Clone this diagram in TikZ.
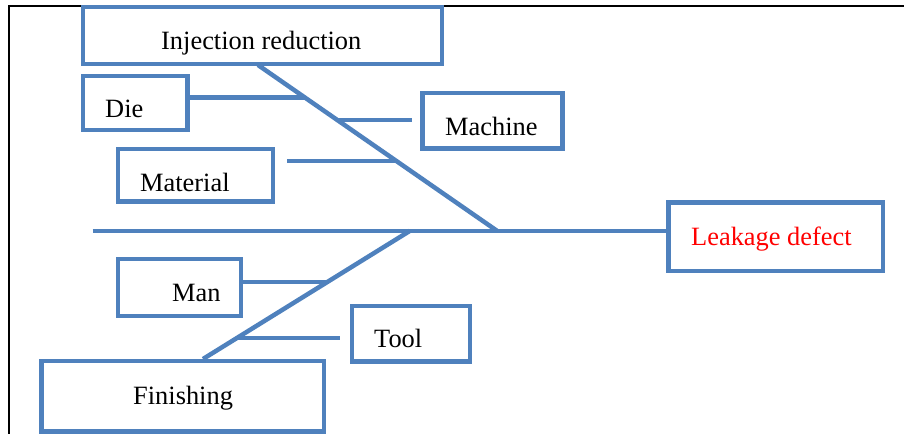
\documentclass[tikz,border=0pt]{standalone}
\usepackage{fontspec}
\setmainfont{Liberation Serif}
\newfontfamily\labelfont{Liberation Serif}
\usetikzlibrary{calc}
\definecolor{fishblue}{RGB}{79,129,189}

\begin{document}
\begin{tikzpicture}[x=1pt, y=-1pt,
  box/.style 2 args={draw=fishblue, line width=4.5pt, inner sep=0pt,
    minimum width=#1, minimum height=#2},
  bone/.style={draw=fishblue, line width=4.5pt},
  lbl/.style={anchor=base west, inner sep=0pt,
    font=\labelfont\fontsize{26.4}{30}\selectfont}]

\useasboundingbox (0,0) rectangle (904,434);

% frame
\draw[line width=1.7pt] (904,5.7) -- (8.7,5.7) -- (8.7,434);

% boxes
\node[box={359}{57}] (inj) at (262.5,35.5) {};
\node[box={104.5}{54}] (die) at (135.25,103) {};
\node[box={155}{52.5}] (mat) at (195.5,175.25) {};
\node[box={140}{55.7}] (mach) at (492.5,120.85) {};
\node[box={214.7}{68.3}] (leak) at (775.65,236.65) {};
\node[box={122.8}{56.8}] (man) at (179.4,287.6) {};
\node[box={118}{55.9}] (tool) at (410.8,333.75) {};
\node[box={282.5}{70.7}] (fin) at (182.75,396.15) {};

\node[lbl] (injtxt) at (161,49) {Injection reduction};
\node[lbl] (dietxt) at (105,117) {Die};
\node[lbl] (mattxt) at (140,191) {Material};
\node[lbl] (machtxt) at (445,135) {Machine};
\node[lbl, text=red] (leaktxt) at (691,245) {Leakage defect};
\node[lbl] (mantxt) at (172,301) {Man};
\node[lbl] (tooltxt) at (374,347) {Tool};
\node[lbl] (fintxt) at (133,404) {Finishing};

% spine and bones
\coordinate (tail) at (92.7,230.8);
\draw[bone] (tail) -- (tail -| leak.west);

\coordinate (ut) at (258,65);
\coordinate (uh) at (497,230.8);
\draw[bone] (ut) -- (uh);

\coordinate (lh) at (410,230.8);
\coordinate (lt) at (203,359);
\draw[bone] (lh) -- (lt);

% branches
\coordinate (b1) at ($(ut)!0.196!(uh)$);
\coordinate (b2) at ($(ut)!0.331!(uh)$);
\coordinate (b3) at ($(ut)!0.578!(uh)$);
\coordinate (b4) at ($(lh)!0.40!(lt)$);
\coordinate (b5) at ($(lh)!0.835!(lt)$);

\draw[bone] (b1) -- (b1 -| die.east);
\draw[bone] (b2) -- ([xshift=-8.5pt]b2 -| mach.west);
\draw[bone] (b3) -- ([xshift=12pt]b3 -| mat.east);
\draw[bone] (b4) -- (b4 -| man.east);
\draw[bone] (b5) -- ([xshift=-10pt]b5 -| tool.west);

\end{tikzpicture}
\end{document}
